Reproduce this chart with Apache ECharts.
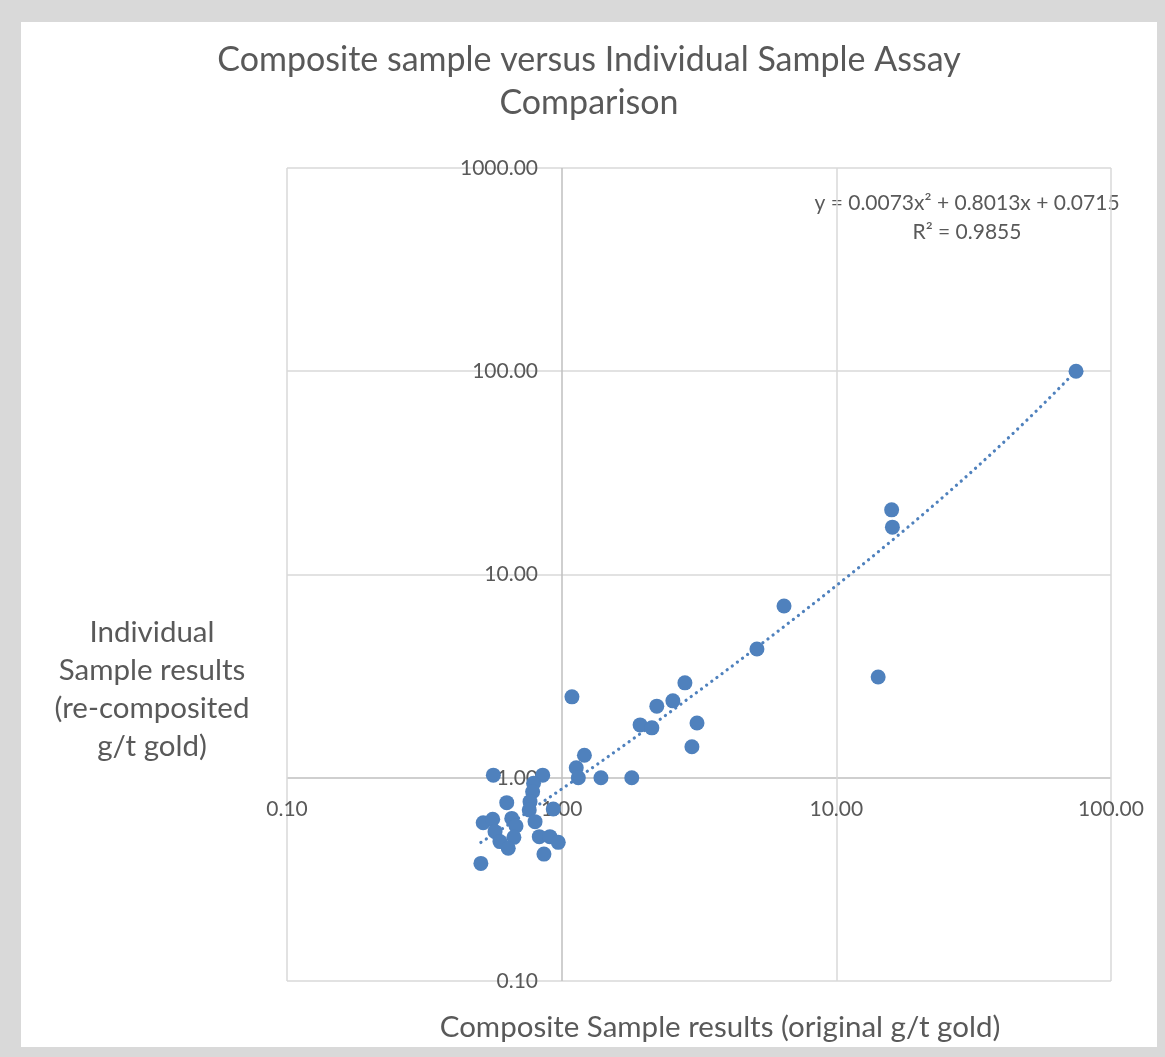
<!DOCTYPE html>
<html>
<head>
<meta charset="utf-8">
<script src="https://cdn.jsdelivr.net/npm/echarts@6/dist/echarts.min.js"></script>
<style>
  html, body { margin: 0; padding: 0; background: #d9d9d9; width: 1165px; height: 1057px; overflow: hidden; }
  #chart { position: absolute; left: 21px; top: 22px; width: 1136px; height: 1025px; background: #ffffff; }
</style>
</head>
<body>
<div id="chart"></div>
<script>
// ---- data ----
const titleLines = ['Composite sample versus Individual Sample Assay', 'Comparison'];
const xAxisName = 'Composite Sample results (original g/t gold)';
const yAxisNameLines = ['Individual', 'Sample results', '(re-composited', 'g/t gold)'];
const equationLines = ['y = 0.0073x\u00b2 + 0.8013x + 0.0715', 'R\u00b2 = 0.9855'];
// polynomial trendline coefficients as printed on the chart: [a2, a1, a0]
const trendCoeffs = [0.0073, 0.8013, 0.0715];
const xRange = [0.1, 100];
const yRange = [0.1, 1000];

// composite (original) g/t gold
const compositeX = [
  74.6, 15.9, 16.0, 6.45, 5.14, 14.2, 2.81, 1.09, 2.54, 2.22,
  3.11, 1.93, 2.13, 2.98, 1.21, 1.13, 1.15, 1.39, 1.80, 0.564,
  0.853, 0.79, 0.784, 0.631, 0.767, 0.762, 0.932, 0.80, 0.518, 0.561,
  0.658, 0.682, 0.572, 0.67, 0.596, 0.639, 0.829, 0.906, 0.972, 0.862,
  0.508
];
// individual (re-composited) g/t gold
const individualY = [
  100.0, 20.8, 17.1, 7.0, 4.30, 3.13, 2.93, 2.50, 2.39, 2.25,
  1.86, 1.82, 1.76, 1.42, 1.29, 1.12, 1.00, 1.00, 1.00, 1.03,
  1.03, 0.94, 0.854, 0.754, 0.763, 0.694, 0.702, 0.608, 0.601, 0.625,
  0.631, 0.579, 0.543, 0.509, 0.485, 0.45, 0.513, 0.513, 0.481, 0.421,
  0.379
];

// ---- build series data ----
const scatterData = compositeX.map((x, i) => [x, individualY[i]]);
const xmin = Math.min(...compositeX), xmax = Math.max(...compositeX);
const trendData = [];
const nSteps = 300;
for (let i = 0; i <= nSteps; i++) {
  const x = Math.pow(10, Math.log10(xmin) + (Math.log10(xmax) - Math.log10(xmin)) * i / nSteps);
  trendData.push([x, trendCoeffs[0] * x * x + trendCoeffs[1] * x + trendCoeffs[2]]);
}

const FONT = 'Lato';
const TEXT = '#595959';
const GRID = '#d9d9d9';
const AXIS = '#bfbfbf';
const BLUE = '#4F81BD';

const chart = echarts.init(document.getElementById('chart'), null, { renderer: 'canvas' });
chart.setOption({
  backgroundColor: '#ffffff',
  animation: false,
  title: {
    text: titleLines.join('\n'),
    left: 'center',
    top: 12,
    textStyle: { fontFamily: FONT, fontSize: 34, fontWeight: 'normal', color: TEXT, lineHeight: 43 }
  },
  grid: { left: 266, right: 46, top: 146, bottom: 66, containLabel: false },
  xAxis: {
    type: 'log', logBase: 10, min: xRange[0], max: xRange[1],
    axisLine: { show: false },
    axisTick: { show: false },
    splitLine: { show: true, showMinLine: true, showMaxLine: true,
      lineStyle: { color: [GRID, AXIS, GRID, GRID], width: 1.5 } },
    axisLabel: {
      margin: -172, verticalAlign: 'middle', showMinLabel: true, showMaxLabel: true,
      fontFamily: FONT, fontSize: 21, color: TEXT,
      formatter: v => Number(v).toFixed(2)
    }
  },
  yAxis: {
    type: 'log', logBase: 10, min: yRange[0], max: yRange[1],
    axisLine: { show: false },
    axisTick: { show: false },
    splitLine: { show: true, showMinLine: true, showMaxLine: true,
      lineStyle: { color: [GRID, AXIS, GRID, GRID, GRID], width: 1.5 } },
    axisLabel: {
      margin: -251, align: 'right', showMinLabel: true, showMaxLabel: true,
      fontFamily: FONT, fontSize: 21, color: TEXT,
      formatter: v => Number(v).toFixed(2)
    }
  },
  graphic: [
    { type: 'text', x: 946, y: 181,
      style: { text: equationLines[0], fontFamily: FONT, fontSize: 21, fill: TEXT, align: 'center', verticalAlign: 'middle' } },
    { type: 'text', x: 946, y: 210,
      style: { text: equationLines[1], fontFamily: FONT, fontSize: 21, fill: TEXT, align: 'center', verticalAlign: 'middle' } },
    { type: 'text', x: 131, y: 667,
      style: { text: yAxisNameLines.join('\n'), fontFamily: FONT, fontSize: 29.5, lineHeight: 38, fill: TEXT, align: 'center', verticalAlign: 'middle' } },
    { type: 'text', x: 699, y: 1005,
      style: { text: xAxisName, fontFamily: FONT, fontSize: 29.5, fill: TEXT, align: 'center', verticalAlign: 'middle' } }
  ],
  series: [
    {
      name: 'Trendline', type: 'line', data: trendData, showSymbol: false, symbol: 'none',
      smooth: false, silent: true, z: 1,
      lineStyle: { color: BLUE, width: 3.2, type: [0.1, 6.3], cap: 'round' }
    },
    {
      name: 'Samples', type: 'scatter', data: scatterData, symbol: 'circle', symbolSize: 15, z: 2,
      itemStyle: { color: BLUE, opacity: 1 }
    }
  ]
});
</script>
</body>
</html>
